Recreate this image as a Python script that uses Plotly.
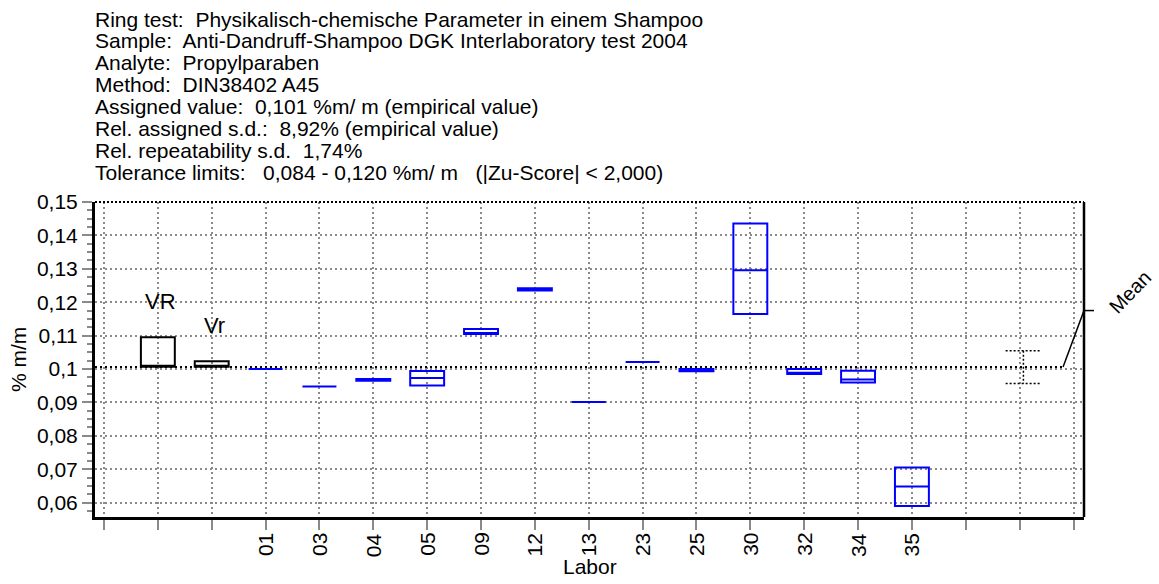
import plotly.graph_objects as go

# ---------------- data ----------------
header_lines = [
    "Ring test:  Physikalisch-chemische Parameter in einem Shampoo",
    "Sample:  Anti-Dandruff-Shampoo DGK Interlaboratory test 2004",
    "Analyte:  Propylparaben",
    "Method:  DIN38402 A45",
    "Assigned value:  0,101 %m/ m (empirical value)",
    "Rel. assigned s.d.:  8,92% (empirical value)",
    "Rel. repeatability s.d.  1,74%",
    "Tolerance limits:   0,084 - 0,120 %m/ m   (|Zu-Score| < 2,000)",
]

labs = ["01", "03", "04", "05", "09", "12", "13", "23", "25", "30", "32", "34", "35"]
lab_q1 = [0.1000, 0.0948, 0.0965, 0.0951, 0.1105, 0.1235, 0.0901, 0.1021, 0.0993, 0.1165, 0.0985, 0.0960, 0.0590]
lab_med = [0.1000, 0.0948, 0.0967, 0.0973, 0.1108, 0.1238, 0.0901, 0.1021, 0.0996, 0.1296, 0.0989, 0.0969, 0.0648]
lab_q3 = [0.1000, 0.0948, 0.0970, 0.0994, 0.1120, 0.1242, 0.0901, 0.1021, 0.1000, 0.1436, 0.1000, 0.0995, 0.0705]

ref_labels = ["VR", "Vr"]
ref_q1 = [0.1007, 0.1007]
ref_med = [0.1010, 0.1010]
ref_q3 = [0.1095, 0.1023]

mean_value = 0.1006
mean_lo = 0.0957
mean_hi = 0.1055
mean_pointer_y = 0.1175

y_ticks = [0.06, 0.07, 0.08, 0.09, 0.10, 0.11, 0.12, 0.13, 0.14, 0.15]
y_ticktext = ["0,06", "0,07", "0,08", "0,09", "0,1", "0,11", "0,12", "0,13", "0,14", "0,15"]

# ---------------- layout constants ----------------
W, H = 1159, 584
ML, MR, MT, MB = 95, 75, 202, 67
PW = W - ML - MR
PH = H - MT - MB
FONT = "Arial, Liberation Sans, sans-serif"
FS = 21
BLUE = "#0000FF"
GRID = "#8a8a8a"

ref_pos = [1, 2]
lab_pos = list(range(3, 3 + len(labs)))
n_ticks = 19
x_range = [-0.167, 18.195]
y_range = [0.0557, 0.15]
mean_x = 17.07
cap = 0.33
mean_line_end = 17.806
box_w = 0.63


def py(px):
    """pixel row -> paper y"""
    return (H - MB - px) / PH


def px_x(px):
    """pixel column -> paper x"""
    return (px - ML) / PW


fig = go.Figure()

# mean dotted line
fig.add_trace(go.Scatter(
    x=[x_range[0], mean_line_end], y=[mean_value, mean_value], mode="lines",
    line=dict(color="black", width=2, dash="2px,3px"), hoverinfo="skip", showlegend=False))
# pointer to "Mean"
fig.add_trace(go.Scatter(
    x=[mean_line_end, x_range[1]], y=[mean_value, mean_pointer_y], mode="lines",
    line=dict(color="black", width=1.5), hoverinfo="skip", showlegend=False))

# mean error bar (dotted I-beam)
fig.add_trace(go.Scatter(
    x=[mean_x - cap, mean_x + cap, None, mean_x, mean_x, None, mean_x - cap, mean_x + cap],
    y=[mean_hi, mean_hi, None, mean_hi, mean_lo, None, mean_lo, mean_lo],
    mode="lines", line=dict(color="black", width=1.5, dash="2px,2px"),
    hoverinfo="skip", showlegend=False))

# reference boxes (VR, Vr)
fig.add_trace(go.Box(
    x=ref_pos, q1=ref_q1, median=ref_med, q3=ref_q3,
    lowerfence=ref_q1, upperfence=ref_q3, width=box_w, whiskerwidth=0,
    line=dict(color="black", width=2), fillcolor="rgba(0,0,0,0)",
    boxpoints=False, showlegend=False, name="ref"))

# laboratory boxes
fig.add_trace(go.Box(
    x=lab_pos, q1=lab_q1, median=lab_med, q3=lab_q3,
    lowerfence=lab_q1, upperfence=lab_q3, width=box_w, whiskerwidth=0,
    line=dict(color=BLUE, width=2), fillcolor="rgba(0,0,0,0)",
    boxpoints=False, showlegend=False, name="labs"))

tickvals = list(range(n_ticks))
ticktext = [""] * n_ticks

annotations = []
for i, line in enumerate(header_lines):
    ypx = 19 + i * 21.9
    annotations.append(dict(
        text=line, xref="paper", yref="paper", x=px_x(93),
        y=py(ypx), xanchor="left", yanchor="middle", showarrow=False,
        font=dict(family=FONT, size=FS, color="black")))

# x tick labels (rotated, reading upward)
for p, l in zip(lab_pos, labs):
    annotations.append(dict(text=l, x=p, y=py(531), xref="x", yref="paper",
                            textangle=-90, xanchor="center", yanchor="top", showarrow=False,
                            font=dict(family=FONT, size=FS, color="black")))

# VR / Vr labels
annotations.append(dict(text=ref_labels[0], x=ref_pos[0] + 0.04, y=0.1202, xref="x", yref="y",
                        showarrow=False, xanchor="center", yanchor="middle",
                        font=dict(family=FONT, size=22, color="black")))
annotations.append(dict(text=ref_labels[1], x=ref_pos[1] + 0.05, y=0.1131, xref="x", yref="y",
                        showarrow=False, xanchor="center", yanchor="middle",
                        font=dict(family=FONT, size=22, color="black")))
# Mean label
annotations.append(dict(text="Mean", x=px_x(1130), y=py(292), xref="paper", yref="paper",
                        showarrow=False, textangle=-46, xanchor="center", yanchor="middle",
                        font=dict(family=FONT, size=20, color="black")))
# axis titles
annotations.append(dict(text="Labor", x=px_x(590), y=py(566), xref="paper", yref="paper",
                        showarrow=False, xanchor="center", yanchor="middle",
                        font=dict(family=FONT, size=FS, color="black")))
annotations.append(dict(text="% m/m", x=px_x(18), y=py(360), xref="paper", yref="paper",
                        showarrow=False, textangle=-90, xanchor="center", yanchor="middle",
                        font=dict(family=FONT, size=FS, color="black")))

shapes = [
    # top border (dotted)
    dict(type="line", xref="paper", yref="paper", x0=0, x1=1, y0=1, y1=1,
         line=dict(color="black", width=2, dash="2px,2px"), layer="above"),
    # right border
    dict(type="line", xref="paper", yref="paper", x0=1, x1=1, y0=0, y1=1,
         line=dict(color="black", width=2.5), layer="above"),
    # mean pointer tick outside
    dict(type="line", xref="paper", yref="y", x0=1, x1=1 + 10 / PW,
         y0=mean_pointer_y, y1=mean_pointer_y, line=dict(color="black", width=1.5)),
]

fig.update_layout(
    width=W, height=H, margin=dict(l=ML, r=MR, t=MT, b=MB, pad=0),
    paper_bgcolor="white", plot_bgcolor="white",
    font=dict(family=FONT, size=FS, color="black"),
    showlegend=False, annotations=annotations, shapes=shapes,
    xaxis=dict(range=x_range, tickvals=tickvals, ticktext=ticktext,
               showgrid=True, gridcolor=GRID, gridwidth=1.5, griddash="2px,3px",
               ticks="outside", ticklen=10, tickwidth=2, tickcolor=GRID,
               showline=True, linecolor="black", linewidth=3, zeroline=False,
               tickfont=dict(family=FONT, size=FS, color="black")),
    yaxis=dict(range=y_range, tickvals=y_ticks, ticktext=y_ticktext,
               showgrid=True, gridcolor=GRID, gridwidth=1.5, griddash="2px,3px",
               ticks="outside", ticklen=10, tickwidth=2, tickcolor=GRID,
               minor=dict(dtick=0.0025, tick0=0, ticks="outside", ticklen=5, tickwidth=2,
                          tickcolor=GRID, showgrid=False),
               showline=True, linecolor="black", linewidth=3, zeroline=False,
               tickfont=dict(family=FONT, size=FS, color="black")),
)

fig.write_html("out.html")
